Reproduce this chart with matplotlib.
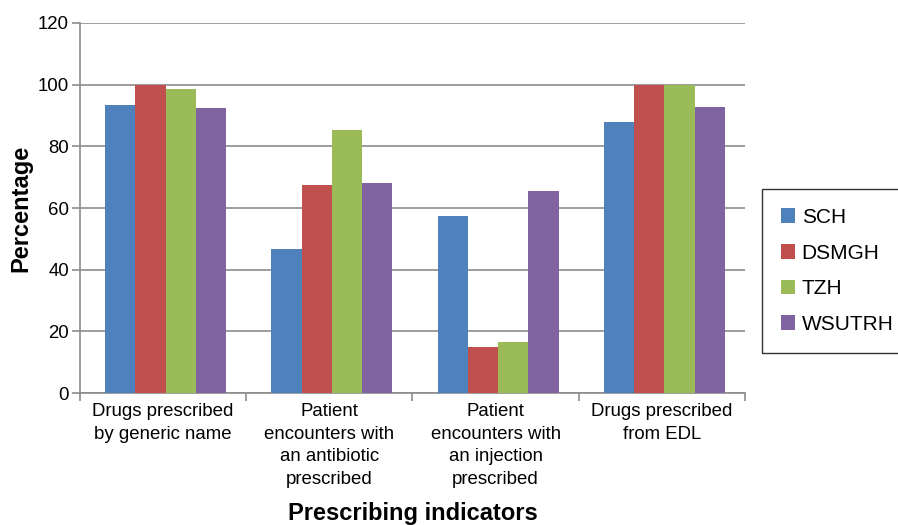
import numpy as np
import matplotlib
matplotlib.use("Agg")
import matplotlib.pyplot as plt

plt.rcParams['font.family'] = ['Liberation Sans', 'DejaVu Sans']

categories = ["Drugs prescribed\nby generic name",
              "Patient\nencounters with\nan antibiotic\nprescribed",
              "Patient\nencounters with\nan injection\nprescribed",
              "Drugs prescribed\nfrom EDL"]
series = ["SCH", "DSMGH", "TZH", "WSUTRH"]
sch = [93.3, 46.7, 57.3, 87.8]
dsmgh = [100.0, 67.6, 15.0, 100.0]
tzh = [98.6, 85.2, 16.6, 100.0]
wsutrh = [92.4, 68.0, 65.5, 92.6]
colors = ["#4F81BD", "#C0504D", "#9BBB59", "#8064A2"]

fig = plt.figure(figsize=(8.98, 5.25), dpi=100)
ax = fig.add_axes([0.0891, 0.2514, 0.7405, 0.7048])

x = np.arange(len(categories))
w = 0.182
for i, (name, vals) in enumerate(zip(series, [sch, dsmgh, tzh, wsutrh])):
    ax.bar(x + (i - 1.5) * w + 0.015, vals, w, color=colors[i], label=name, zorder=3)

grid_c = "#8c8c8c"
ax.set_ylim(0, 120)
ax.set_yticks(range(0, 121, 20))
ax.yaxis.grid(True, color=grid_c, linewidth=1.2, zorder=0)
ax.set_xlim(-0.5, len(categories) - 0.5)
ax.set_xticks(x)
ax.set_xticklabels(categories, fontsize=13.4, va="top", linespacing=1.45)
ax.set_xticks(np.arange(-0.5, len(categories)), minor=True)
ax.tick_params(axis="x", which="major", length=0, pad=7)
ax.tick_params(axis="x", which="minor", length=6, color=grid_c, width=1.2)
ax.tick_params(axis="y", length=6, color=grid_c, width=1.2, labelsize=13.4, pad=2)

for s in ["top", "right"]:
    ax.spines[s].set_visible(False)
for s in ["left", "bottom"]:
    ax.spines[s].set_color(grid_c)
    ax.spines[s].set_linewidth(1.2)

ax.set_ylabel("Percentage", fontsize=17, fontweight="bold", labelpad=4)
ax.set_xlabel("Prescribing indicators", fontsize=17, fontweight="bold", labelpad=10)

leg = ax.legend(loc="center left", bbox_to_anchor=(1.0256, 0.33), fontsize=15,
                frameon=True, fancybox=False, edgecolor="black",
                handlelength=0.7, handleheight=0.7, handletextpad=0.3,
                labelspacing=0.8, borderpad=0.9, borderaxespad=0)
leg.get_frame().set_linewidth(1.0)

fig.savefig("out.png", dpi=100)
